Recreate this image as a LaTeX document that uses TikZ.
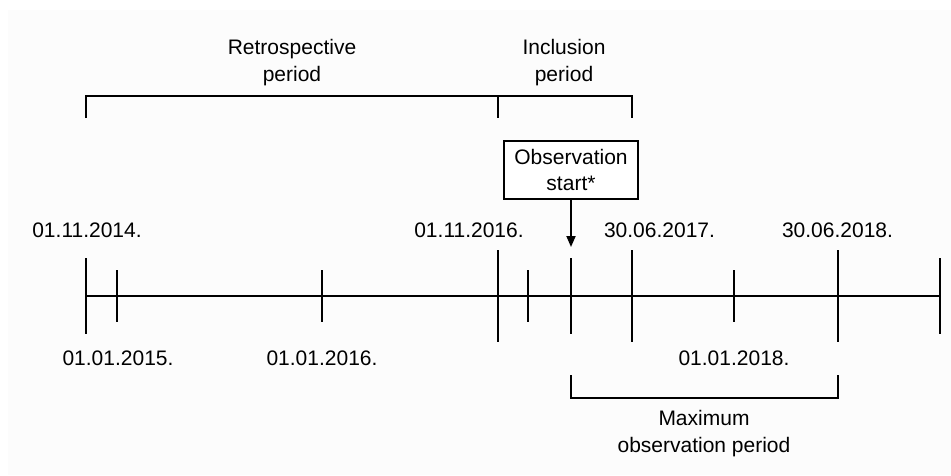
\documentclass[tikz,border=0pt]{standalone}
\usepackage{fontspec}
\setmainfont{Liberation Sans}
\usetikzlibrary{arrows.meta}
\definecolor{bgc}{RGB}{252,252,252}
\begin{document}
\begin{tikzpicture}[x=1pt,y=-1pt,
  lbl/.style={font=\fontsize{21}{27}\selectfont, inner sep=0pt},
  multilbl/.style={lbl, align=center},
  ln/.style={draw=black, line width=1.8pt},
  obsbox/.style={draw=black, line width=1.8pt, fill=white, align=center,
    font=\fontsize{21}{26.5}\selectfont, minimum width=134pt, minimum height=58pt, inner sep=2pt},
  arr/.style={ln, -{Triangle[length=11pt,width=9pt]}}]
\useasboundingbox (0,0) rectangle (951,475);
\fill[white] (0,0) rectangle (951,475);
\fill[bgc] (8,10) rectangle (951,475);

% axis
\coordinate (a0) at (86,296);
\coordinate (a1) at (940,296);
\draw[ln] (a0) -- (a1);

% ticks
\foreach \n/\x/\h in {1/86/38, 2/117/26, 3/322/26, 4/497.7/46, 5/527.7/26, 6/570.7/38, 7/632/46, 8/734/26, 9/838/46, 10/940/38}{
  \coordinate (tt\n) at (\x,296-\h);
  \coordinate (tb\n) at (\x,296+\h);
  \draw[ln] (tt\n) -- (tb\n);
}

% top brackets
\coordinate (rl) at (86,96);
\coordinate (rlb) at (86,118);
\coordinate (rm) at (497.7,96);
\coordinate (rmb) at (497.7,118);
\coordinate (ir) at (632,96);
\coordinate (irb) at (632,118);
\draw[ln, line join=miter] (rlb) -- (rl) -- (ir) -- (irb);
\draw[ln] (rm) -- (rmb);

% bottom bracket
\coordinate (ml) at (570.7,375);
\coordinate (mlb) at (570.7,398);
\coordinate (mr) at (838,375);
\coordinate (mrb) at (838,398);
\draw[ln, line join=miter] (ml) -- (mlb) -- (mrb) -- (mr);

% period labels
\node[multilbl] (retro) at (292,63) {Retrospective\\period};
\node[multilbl] (incl) at (564,63) {Inclusion\\period};
\node[multilbl] (maxp) at (704,434) {Maximum\\observation period};

% observation start
\node[obsbox] (obs) at (571,170) {Observation\\start*};
\coordinate (obstip) at (571,247);
\draw[arr] (obs.south) -- (obstip);

% date labels
\node[lbl, anchor=base] (d1) at (87,237) {01.11.2014.};
\node[lbl, anchor=base] (d2) at (469,237) {01.11.2016.};
\node[lbl, anchor=base] (d3) at (659.5,237) {30.06.2017.};
\node[lbl, anchor=base] (d4) at (837.5,237) {30.06.2018.};
\node[lbl, anchor=base] (b1) at (118,365) {01.01.2015.};
\node[lbl, anchor=base] (b2) at (322,365) {01.01.2016.};
\node[lbl, anchor=base] (b3) at (734,365) {01.01.2018.};
\end{tikzpicture}
\end{document}
